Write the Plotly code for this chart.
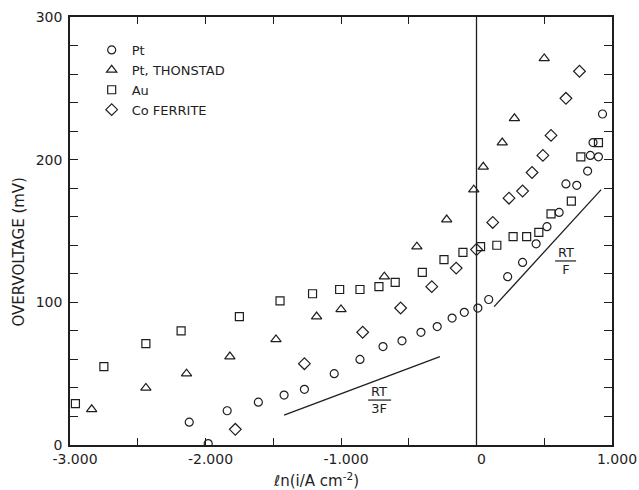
import plotly.graph_objects as go

# ---- data ----
pt_x = [-2.12, -1.98, -1.84, -1.61, -1.42, -1.27, -1.05, -0.86, -0.69, -0.55, -0.41, -0.29,
        -0.18, -0.09, 0.01, 0.09, 0.23, 0.34, 0.44, 0.52, 0.61, 0.66, 0.74, 0.82, 0.84, 0.90,
        0.86, 0.93]
pt_y = [16, 1, 24, 30, 35, 39, 50, 60, 69, 73, 79, 83,
        89, 93, 96, 102, 118, 128, 141, 153, 163, 183, 182, 192, 203, 202,
        212, 232]

th_x = [-2.84, -2.44, -2.14, -1.82, -1.48, -1.18, -1.00, -0.68, -0.44, -0.22, -0.02, 0.05,
        0.19, 0.28, 0.50]
th_y = [25, 40, 50, 62, 74, 90, 95, 118, 139, 158, 179, 195,
        212, 229, 271]

au_x = [-2.96, -2.75, -2.44, -2.18, -1.75, -1.45, -1.21, -1.01, -0.86, -0.72, -0.60, -0.40,
        -0.24, -0.10, 0.03, 0.15, 0.27, 0.37, 0.46, 0.55, 0.70, 0.77, 0.90]
au_y = [29, 55, 71, 80, 90, 101, 106, 109, 109, 111, 114, 121,
        130, 135, 139, 140, 146, 146, 149, 162, 171, 202, 212]

co_x = [-1.78, -1.27, -0.84, -0.56, -0.33, -0.15, 0.00, 0.12, 0.24, 0.34, 0.41, 0.49,
        0.55, 0.66, 0.76]
co_y = [11, 57, 79, 96, 111, 124, 137, 156, 173, 178, 191, 203,
        217, 243, 262]

# reference slopes
rt3f_x = [-1.42, -0.27]
rt3f_y = [21, 62]
rtf_x = [0.13, 0.92]
rtf_y = [97, 179]

x_tickvals = [-3, -2.5, -2, -1.5, -1, -0.5, 0, 0.5, 1]
x_ticktext = ["-3.000", "", "-2.000", "", "-1.000", "", "0", "", "1.000"]
y_tickvals = list(range(0, 301, 20))
y_ticktext = ["0", "", "", "", "", "100", "", "", "", "", "200", "", "", "", "", "300"]

FONT = "DejaVu Sans, Verdana, sans-serif"
INK = "#1e1e1e"

fig = go.Figure()

def add_series(x, y, symbol, name, size=8):
    fig.add_trace(go.Scatter(
        x=x, y=y, mode="markers", name=name,
        marker=dict(symbol=symbol, size=size, color=INK,
                    line=dict(color=INK, width=1.2)),
    ))

add_series(pt_x, pt_y, "circle-open", "Pt", 8)
add_series(th_x, th_y, "triangle-up-open", "Pt, THONSTAD", 9)
add_series(au_x, au_y, "square-open", "Au", 8)
add_series(co_x, co_y, "diamond-open", "Co FERRITE", 9)

for lx, ly in [(rt3f_x, rt3f_y), (rtf_x, rtf_y)]:
    fig.add_trace(go.Scatter(x=lx, y=ly, mode="lines", showlegend=False,
                             line=dict(color=INK, width=1.3), hoverinfo="skip"))

fig.add_vline(x=0, line=dict(color=INK, width=1.3))

fig.add_annotation(x=-0.716, y=31.5, text="RT<br>3F", showarrow=False,
                   font=dict(family=FONT, size=13, color=INK))
fig.add_shape(type="line", x0=-0.80, x1=-0.63, y0=31.5, y1=31.5,
              line=dict(color=INK, width=1.2))
fig.add_annotation(x=0.657, y=129, text="RT<br>F", showarrow=False,
                   font=dict(family=FONT, size=13, color=INK))
fig.add_shape(type="line", x0=0.58, x1=0.735, y0=129, y1=129,
              line=dict(color=INK, width=1.2))

# axis titles
fig.add_annotation(xref="paper", yref="paper", x=0.453, y=-0.082,
                   text="<i>ℓ</i>n(i/A cm<sup>-2</sup>)", showarrow=False,
                   yanchor="middle", font=dict(family=FONT, size=15, color=INK))
fig.add_annotation(xref="paper", yref="paper", x=-0.094, y=0.45,
                   text="OVERVOLTAGE (mV)", showarrow=False, textangle=-90,
                   xanchor="center", yanchor="middle",
                   font=dict(family=FONT, size=15, color=INK))

fig.update_xaxes(range=[-3, 1], tickvals=x_tickvals, ticktext=x_ticktext,
                 ticks="inside", ticklen=7, tickwidth=1.3, tickcolor=INK,
                 showline=True, linecolor=INK, linewidth=1.5, mirror="ticks",
                 showgrid=False, zeroline=False, automargin=False,
                 ticklabelshift=5,
                 tickfont=dict(family=FONT, size=14, color=INK))
fig.update_yaxes(range=[0, 300], tickvals=y_tickvals, ticktext=y_ticktext,
                 ticks="inside", ticklen=8, tickwidth=1.3, tickcolor=INK,
                 showline=True, linecolor=INK, linewidth=1.5, mirror="ticks",
                 showgrid=False, zeroline=False, automargin=False,
                 ticklabelstandoff=3,
                 tickfont=dict(family=FONT, size=14, color=INK))

fig.update_layout(
    width=639, height=490,
    margin=dict(l=70, r=27, t=17, b=45),
    paper_bgcolor="white", plot_bgcolor="white",
    font=dict(family=FONT, color=INK),
    legend=dict(x=0.04, y=0.958, xanchor="left", yanchor="top",
                bgcolor="rgba(0,0,0,0)", itemwidth=30,
                font=dict(family=FONT, size=13, color=INK), tracegroupgap=0),
)

fig.write_html("out.html", config={"displayModeBar": False},
               post_script="document.body.style.margin='0';document.body.style.overflow='hidden';")
